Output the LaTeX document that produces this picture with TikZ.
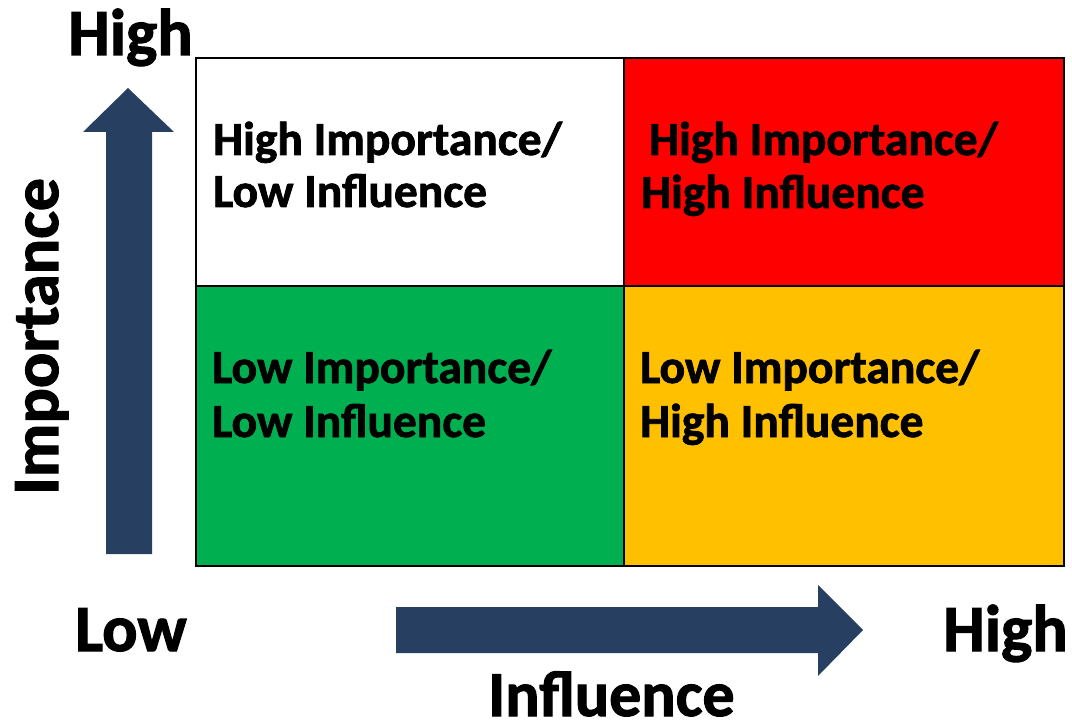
\documentclass[tikz,border=0pt]{standalone}
\usepackage{fontspec}
\setmainfont{Carlito}
\newfontfamily\heavy{Carlito Bold}[RawFeature={embolden=1.6}]
\definecolor{navy}{RGB}{39,64,97}
\definecolor{qred}{RGB}{255,0,0}
\definecolor{qgreen}{RGB}{0,176,80}
\definecolor{qgold}{RGB}{255,192,0}
\begin{document}
\begin{tikzpicture}[x=1pt,y=-1pt,
  quad/.style={draw=black,line width=2pt,inner sep=0pt,outer sep=0pt},
  qtext/.style={anchor=base west,inner sep=0pt,font=\fontsize{47.5}{47.5}\selectfont\heavy},
  big/.style={anchor=base west,inner sep=0pt,font=\fontsize{66}{66}\selectfont\heavy},
  arrowshape/.style={fill=navy,draw=none}]
\useasboundingbox (0,0) rectangle (1072,722);
% quadrants
\draw[quad,fill=white] (196,58) rectangle (624,286);
\draw[quad,fill=qred] (624,58) rectangle (1064,286);
\draw[quad,fill=qgreen] (196,286) rectangle (624,566);
\draw[quad,fill=qgold] (624,286) rectangle (1064,566);
% quadrant texts
\node[qtext] (tl1) at (213,155) {High Importance/};
\node[qtext] (tl2) at (213,207) {Low Influence};
\node[qtext] (tr1) at (649,155) {High Importance/};
\node[qtext] (tr2) at (641,208) {High Influence};
\node[qtext] (bl1) at (212,383) {Low Importance/};
\node[qtext] (bl2) at (212,437) {Low Influence};
\node[qtext] (br1) at (640,383) {Low Importance/};
\node[qtext] (br2) at (640,437) {High Influence};
% arrows
\fill[arrowshape] (106,554) -- (106,132) -- (83,132) -- (128,88) -- (174,132) -- (152,132) -- (152,554) -- cycle;
\fill[arrowshape] (396,607) -- (818,607) -- (818,585) -- (863,630) -- (818,676) -- (818,653) -- (396,653) -- cycle;
% axis labels
\node[big] (hightop) at (68,55) {High};
\node[big] (low) at (75,651) {Low};
\node[big] (highright) at (943,651) {High};
\node[big,rotate=90] (imp) at (58,495) {Importance};
\node[big,font=\fontsize{64}{64}\selectfont\heavy] (infl) at (488,716) {Influence};
\end{tikzpicture}
\end{document}
